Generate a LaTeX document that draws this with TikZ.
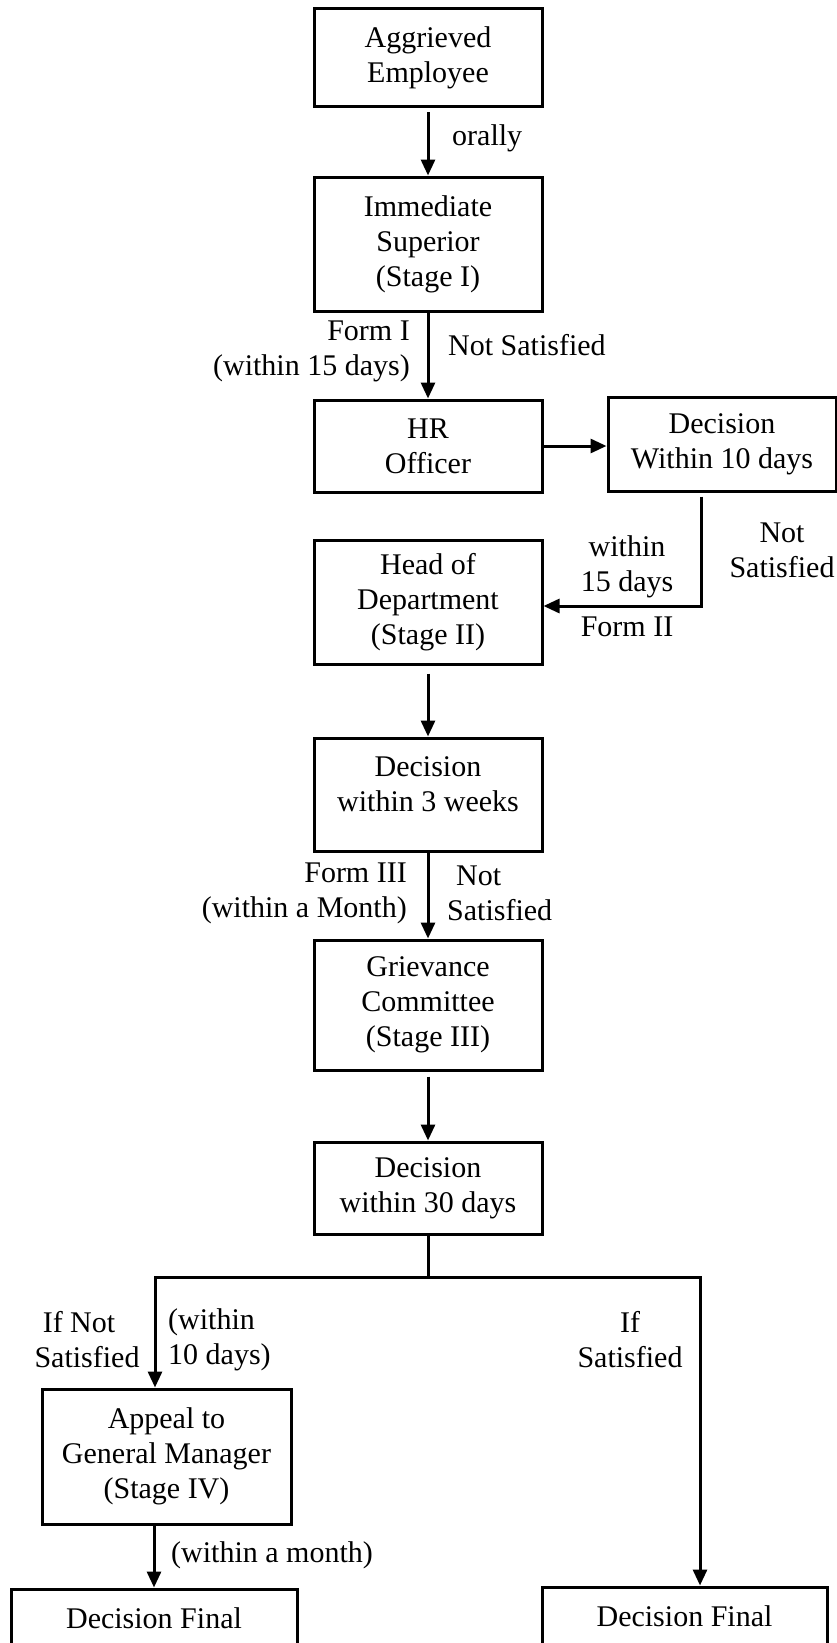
\documentclass[tikz,border=0pt]{standalone}
\usepackage{fontspec}
\setmainfont{Liberation Serif}
\usetikzlibrary{arrows.meta,calc}

\begin{document}
\begin{tikzpicture}[x=1pt,y=-1pt,
  every node/.style={font=\fontsize{30}{35}\selectfont, inner sep=0pt},
  box/.style={draw, line width=3pt, rectangle, align=center, minimum width=228pt},
  lbl/.style={align=center},
  arr/.style={line width=3pt, -{Triangle[length=16pt,width=14pt]}},
  ln/.style={line width=3pt}]

\useasboundingbox (0,0) rectangle (837,1643);

% main column of stages
\node[box, minimum height=98pt]  (emp)  at (428,58)    {Aggrieved\\Employee};
\node[box, minimum height=134pt] (sup)  at (428,244)   {Immediate\\Superior\\(Stage I)};
\node[box, minimum height=92pt]  (hr)   at (428,446)   {HR\\Officer};
\node[box, minimum height=94pt]  (dec1) at (722,444)   {Decision\\Within 10 days};
\node[box, minimum height=124pt] (hod)  at (428,602)   {Head of\\Department\\(Stage II)};
\node[box, minimum height=113pt] (dec2) at (428,794.5) {};
\node[lbl] (dec2txt) at (428,784) {Decision\\within 3 weeks};
\node[box, minimum height=130pt] (gc)   at (428,1005)  {Grievance\\Committee\\(Stage III)};
\node[box, minimum height=92pt]  (dec3) at (428,1188)  {Decision\\within 30 days};

% appeal branch and final decisions
\node[box, minimum width=249pt, minimum height=135pt] (gm)   at (166.5,1456.5) {Appeal to\\General Manager\\(Stage IV)};
\node[box, minimum width=286pt, minimum height=58pt]  (finL) at (154,1618)     {Decision Final};
\node[box, minimum width=285pt, minimum height=58pt]  (finR) at (684.5,1616)   {Decision Final};

% Stage I
\draw[arr, shorten <=4pt] (emp) -- (sup);
\node[anchor=west] (lorally) at (452,138) {orally};

\draw[arr] (sup) -- (hr);
\node[lbl, align=right, anchor=east] (lform1) at (410,351) {Form I\\(within 15 days)};
\node[anchor=west] (lns1) at (448,345) {Not Satisfied};

% HR officer and its decision
\draw[arr] (hr.east) -- (hr.east -| dec1.west);
\coordinate (bend1) at (701,606);
\draw[arr, shorten <=4pt] (dec1.south -| bend1) -- (bend1) -- (bend1 -| hod.east);
\node[lbl] (lwithin15) at (627,567) {within\\15 days};
\node (lform2) at (627,627) {Form II};
\node[lbl] (lns2) at (782,550) {Not\\Satisfied};

% Stage II
\draw[arr, shorten <=8pt] (hod) -- (dec2);
\draw[arr] (dec2) -- (gc);
\node[lbl, align=right, anchor=east] (lform3) at (407,893) {Form III\\(within a Month)};
\node[lbl, align=left, anchor=west] (lns3) at (447,893) {\hspace*{9pt}Not\\Satisfied};

% Stage III
\draw[arr, shorten <=5pt] (gc) -- (dec3);
\coordinate (split) at (428,1277);
\coordinate (jl) at (155,1277);
\coordinate (jr) at (700,1277);
\draw[ln] (dec3.south) -- (split);
\draw[arr] (split) -- (jl) -- (jl |- gm.north);
\draw[arr] (split) -- (jr) -- (jr |- finR.north);
\node[lbl] (lifnot) at (87,1340) {If Not\hspace*{16pt}\\Satisfied};
\node[lbl, align=left, anchor=west] (lw10) at (168,1340) {(within\\10 days)};
\node[lbl] (lifsat) at (630,1340) {If\\Satisfied};

% Stage IV
\draw[arr] (gm.south -| finL.north) -- (finL.north);
\node[anchor=west] (lmonth) at (171,1555) {(within a month)};

\end{tikzpicture}
\end{document}
